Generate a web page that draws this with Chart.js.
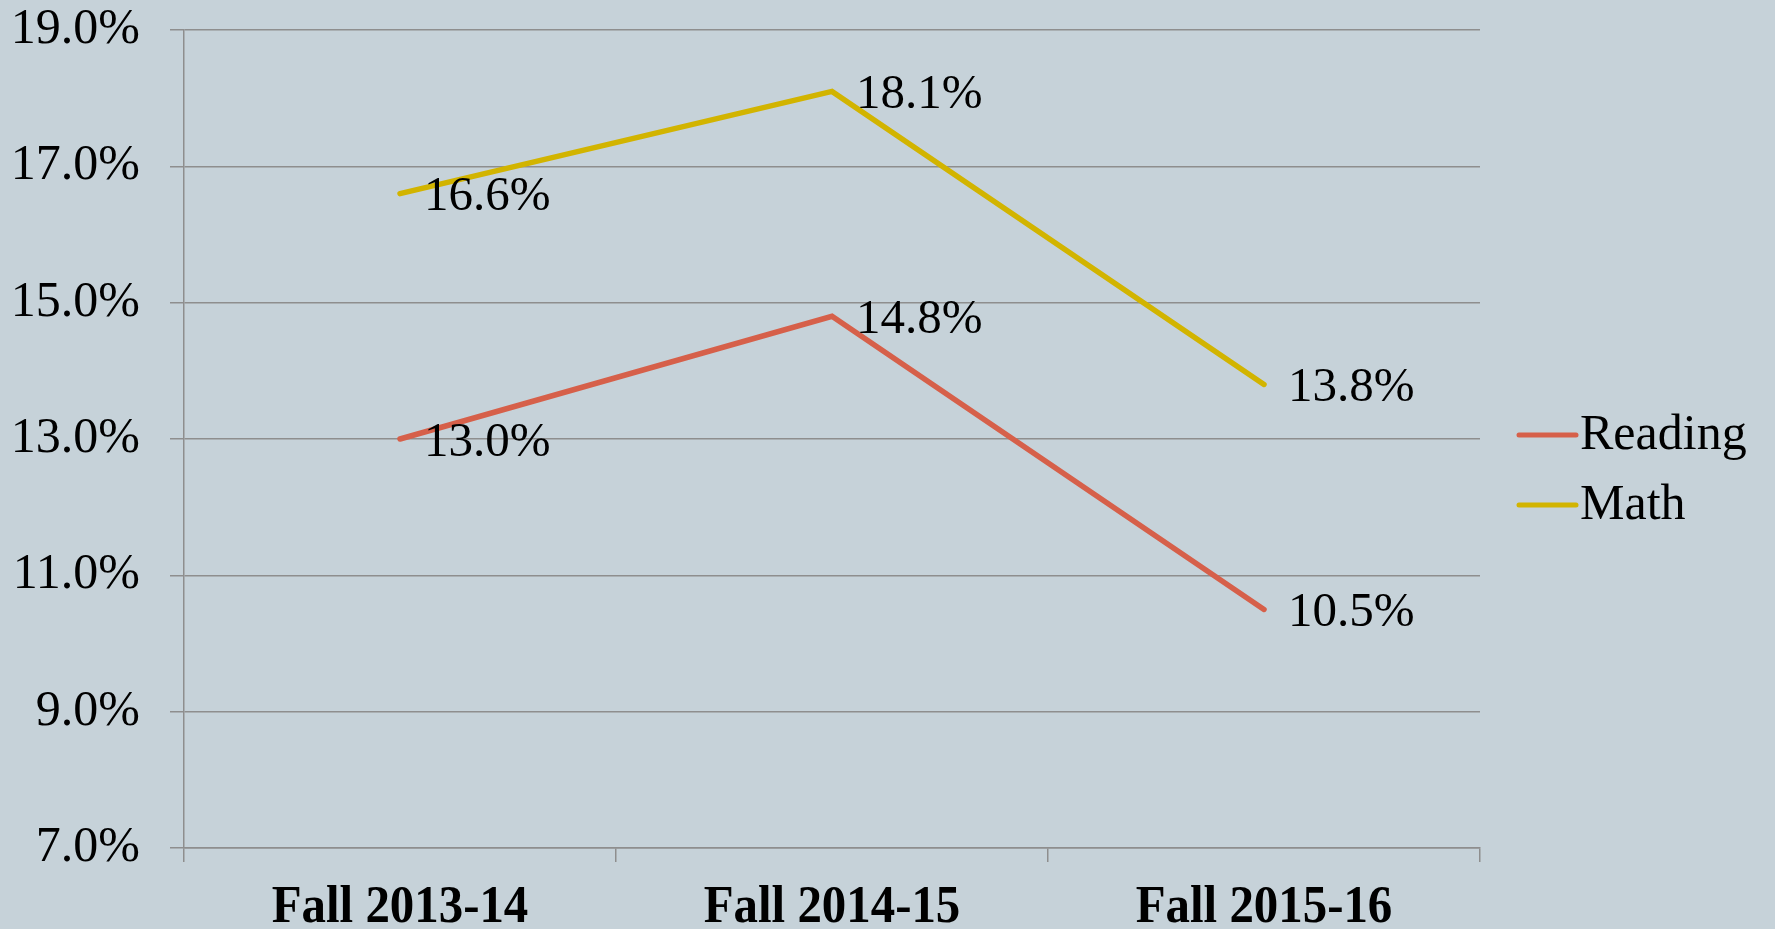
<!DOCTYPE html>
<html>
<head>
<meta charset="utf-8">
<script src="https://cdn.jsdelivr.net/npm/chart.js@4/dist/chart.umd.min.js"></script>
<style>
  html, body { margin: 0; padding: 0; background: #c6d2d9; }
  #wrap { width: 1775px; height: 929px; }
</style>
</head>
<body>
<div id="wrap"><canvas id="chart" width="1775" height="929"></canvas></div>
<script>
// values
const categories = ['Fall 2013-14', 'Fall 2014-15', 'Fall 2015-16'];
const readingValues = [13.0, 14.8, 10.5];
const mathValues = [16.6, 18.1, 13.8];
const yTicks = [7, 9, 11, 13, 15, 17, 19];

const SERIF = '"Liberation Serif", "DejaVu Serif", serif';
const GRID = '#8e8e8e';

// point labels to the right of each point
const valueLabels = {
    id: 'valueLabels',
    afterDatasetsDraw(chart) {
        const ctx = chart.ctx;
        ctx.save();
        ctx.font = '49px ' + SERIF;
        ctx.fillStyle = '#000';
        ctx.textAlign = 'left';
        ctx.textBaseline = 'middle';
        chart.data.datasets.forEach((ds, i) => {
            chart.getDatasetMeta(i).data.forEach((pt, j) => {
                ctx.fillText(ds.data[j].toFixed(1) + '%', pt.x + 24, pt.y + 4);
            });
        });
        ctx.restore();
    }
};

// bold category labels under the x axis, slightly narrowed
const xLabels = {
    id: 'xLabels',
    afterDraw(chart) {
        const ctx = chart.ctx;
        const xs = chart.scales.x;
        ctx.save();
        ctx.font = 'bold 52px ' + SERIF;
        ctx.fillStyle = '#000';
        ctx.textAlign = 'center';
        ctx.textBaseline = 'middle';
        categories.forEach((c, i) => {
            ctx.save();
            ctx.translate(xs.getPixelForValue(i), chart.chartArea.bottom + 61);
            ctx.scale(0.94, 1);
            ctx.fillText(c, 0, 0);
            ctx.restore();
        });
        ctx.restore();
    }
};

// legend on the right, line sample tight against the text
const sideLegend = {
    id: 'sideLegend',
    afterDraw(chart) {
        const ctx = chart.ctx;
        const x0 = chart.chartArea.right + 39;
        const cy = 470;
        ctx.save();
        ctx.font = '50px ' + SERIF;
        ctx.textBaseline = 'middle';
        ctx.textAlign = 'left';
        chart.data.datasets.forEach((ds, i) => {
            const y = cy - 35 + i * 70;
            ctx.strokeStyle = ds.borderColor;
            ctx.lineWidth = 5;
            ctx.lineCap = 'round';
            ctx.beginPath();
            ctx.moveTo(x0, y);
            ctx.lineTo(x0 + 57, y);
            ctx.stroke();
            ctx.fillStyle = '#000';
            ctx.fillText(ds.label, x0 + 61, y + 1);
        });
        ctx.restore();
    }
};

new Chart(document.getElementById('chart'), {
    type: 'line',
    data: {
        labels: categories,
        datasets: [
            {
                label: 'Reading',
                data: readingValues,
                borderColor: '#d6604a',
                backgroundColor: '#d6604a',
                borderWidth: 5.5,
                borderCapStyle: 'round',
                pointRadius: 0,
                tension: 0
            },
            {
                label: 'Math',
                data: mathValues,
                borderColor: '#d2b400',
                backgroundColor: '#d2b400',
                borderWidth: 5.5,
                borderCapStyle: 'round',
                pointRadius: 0,
                tension: 0
            }
        ]
    },
    options: {
        responsive: false,
        animation: false,
        layout: { padding: { left: 0, right: 295, top: 30, bottom: 67 } },
        plugins: {
            legend: { display: false },
            tooltip: { enabled: false }
        },
        scales: {
            x: {
                offset: true,
                grid: {
                    offset: true,
                    drawOnChartArea: false,
                    color: GRID,
                    lineWidth: 1.5,
                    tickLength: 14
                },
                border: { color: GRID, width: 1.5 },
                ticks: { display: false }
            },
            y: {
                min: yTicks[0],
                max: yTicks[yTicks.length - 1],
                afterBuildTicks(scale) {
                    scale.ticks = yTicks.map(v => ({ value: v }));
                },
                afterFit(scale) {
                    scale.width = 184;
                    scale.paddingTop = 0;
                    scale.paddingBottom = 0;
                },
                grid: { color: GRID, lineWidth: 1.5, tickLength: 14 },
                border: { color: GRID, width: 1.5 },
                ticks: {
                    padding: 30,
                    color: '#000',
                    font: { family: SERIF, size: 50 },
                    callback: v => v.toFixed(1) + '%'
                }
            }
        }
    },
    plugins: [valueLabels, xLabels, sideLegend]
});
</script>
</body>
</html>
